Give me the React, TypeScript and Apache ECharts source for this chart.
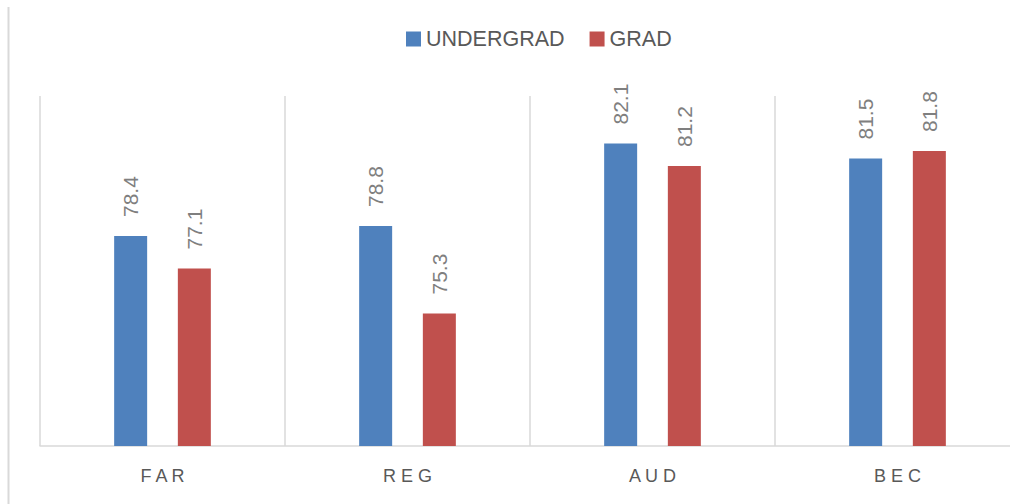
import React, { useEffect, useRef } from "react";
import * as echarts from "echarts";

const categories = ["FAR", "REG", "AUD", "BEC"];
const undergrad = [78.4, 78.8, 82.1, 81.5];
const grad = [77.1, 75.3, 81.2, 81.8];
const seriesNames = ["UNDERGRAD", "GRAD"];

export default function App() {
  const ref = useRef<HTMLDivElement>(null);
  useEffect(() => {
    if (!ref.current) return;
    const chart = echarts.init(ref.current, null, { renderer: "svg" });
    const font = "'Liberation Sans', Arial, sans-serif";
    const label = {
      show: true,
      position: "top",
      rotate: 90,
      align: "left",
      verticalAlign: "middle",
      distance: 19,
      color: "#7f7f7f",
      fontSize: 21,
      fontFamily: font,
    };
    chart.setOption({
      animation: false,
      backgroundColor: "#ffffff",
      legend: {
        data: seriesNames,
        left: 401,
        top: 23,
        itemWidth: 15,
        itemHeight: 15,
        itemGap: 25,
        icon: "rect",
        textStyle: { fontSize: 21.5, color: "#595959", fontFamily: font, padding: [0, 0, 0, 0] },
      },
      grid: { left: 40, right: 0, top: 96, bottom: 58, containLabel: false },
      xAxis: {
        type: "category",
        data: categories,
        axisLine: { show: true, lineStyle: { color: "#d9d9d9", width: 1.5 } },
        axisTick: { show: false },
        splitLine: { show: true, lineStyle: { color: "#d9d9d9", width: 1.5 } },
        axisLabel: {
          margin: 21,
          fontSize: 18,
          color: "#595959",
          fontFamily: font,
          formatter: (v: string) => v.split("").join(" "),
        },
      },
      yAxis: {
        type: "value",
        min: 70,
        max: 84,
        show: false,
        splitLine: { show: false },
      },
      graphic: [
        {
          type: "line",
          shape: { x1: 8.5, y1: 7, x2: 8.5, y2: 504 },
          style: { stroke: "#d9d9d9", lineWidth: 2 },
        },
      ],
      series: [
        {
          name: seriesNames[0],
          type: "bar",
          data: undergrad,
          barWidth: 33,
          barGap: "93%",
          itemStyle: { color: "#4F81BD" },
          label,
        },
        {
          name: seriesNames[1],
          type: "bar",
          data: grad,
          barWidth: 33,
          barGap: "93%",
          itemStyle: { color: "#C0504D" },
          label,
        },
      ],
    });
    return () => chart.dispose();
  }, []);
  return (
    <div style={{ position: "absolute", left: 0, top: 0, width: 1010, height: 504, overflow: "hidden" }}>
      <div ref={ref} style={{ position: "absolute", left: 0, top: 0, width: 1020, height: 504 }} />
    </div>
  );
}
